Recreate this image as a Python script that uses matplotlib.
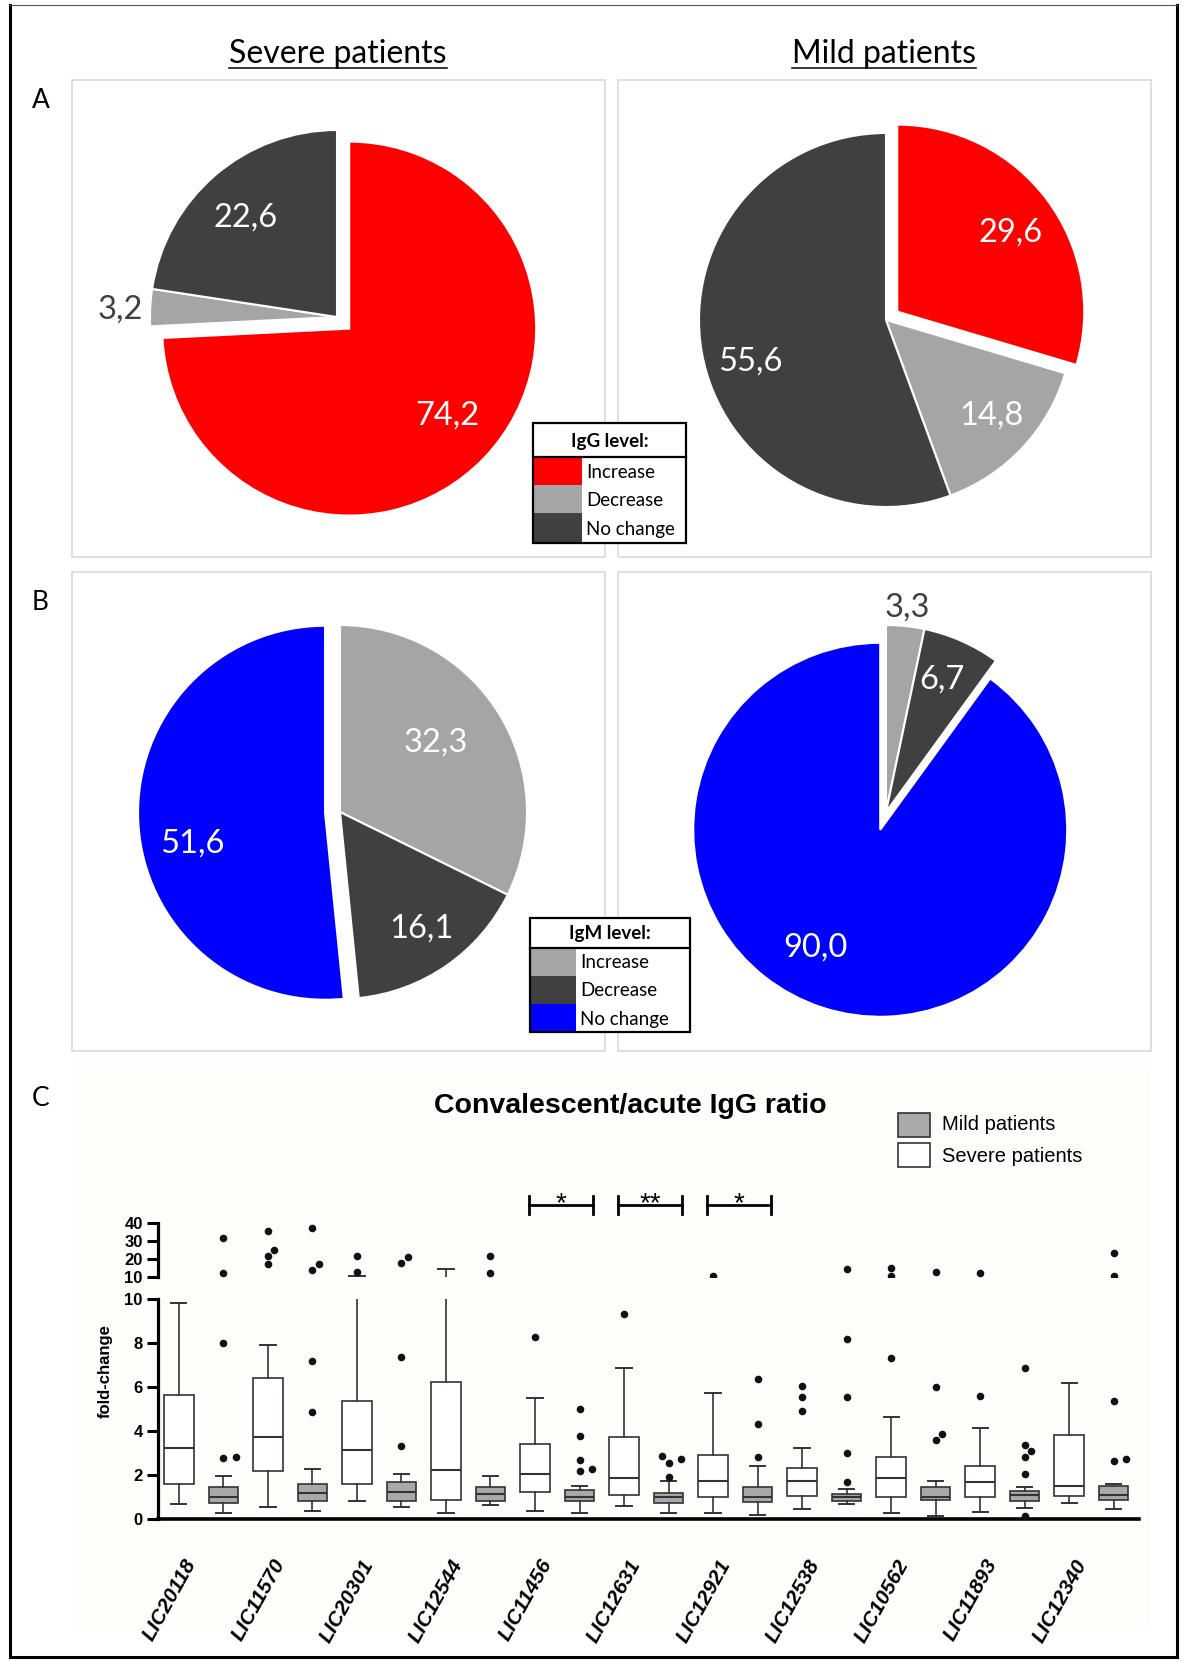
import matplotlib
matplotlib.use("Agg")
import matplotlib.pyplot as plt
import matplotlib.transforms as mtransforms
from matplotlib.patches import Rectangle
from matplotlib.lines import Line2D
import numpy as np

# ---------------- data ----------------
level_names = ["Increase", "Decrease", "No change"]
igg_severe = [74.2, 3.2, 22.6]
igg_mild = [29.6, 14.8, 55.6]
igm_severe = [32.3, 16.1, 51.6]
igm_mild = [3.3, 6.7, 90.0]

genes = ["LIC20118", "LIC11570", "LIC20301", "LIC12544", "LIC11456", "LIC12631",
         "LIC12921", "LIC12538", "LIC10562", "LIC11893", "LIC12340"]

# severe patients: whisker low, Q1, median, Q3, whisker high, outliers
sev_lo = [0.68, 0.55, 0.83, 0.27, 0.36, 0.60, 0.30, 0.45, 0.30, 0.35, 0.73]
sev_q1 = [1.59, 2.21, 1.59, 0.88, 1.26, 1.10, 1.00, 1.06, 1.00, 1.00, 1.06]
sev_med = [3.26, 3.75, 3.15, 2.24, 2.04, 1.89, 1.75, 1.75, 1.86, 1.71, 1.51]
sev_q3 = [5.66, 6.44, 5.39, 6.26, 3.42, 3.75, 2.92, 2.35, 2.85, 2.42, 3.83]
sev_hi = [9.85, 7.92, 10.3, 14.1, 5.53, 6.89, 5.73, 3.23, 4.64, 4.16, 6.18]
sev_out = [[], [17.0, 21.5, 25.0, 35.6], [12.8, 21.5], [], [8.3], [9.32], [10.4],
           [4.92, 5.58, 6.07], [7.35, 10.6, 15.0], [5.62, 11.9], []]

# mild patients
mild_lo = [0.30, 0.38, 0.57, 0.65, 0.30, 0.27, 0.20, 0.70, 0.17, 0.53, 0.47]
mild_q1 = [0.76, 0.83, 0.85, 0.85, 0.85, 0.73, 0.77, 0.85, 0.86, 0.85, 0.86]
mild_med = [1.03, 1.21, 1.26, 1.15, 1.03, 1.03, 1.03, 1.00, 1.00, 1.10, 1.10]
mild_q3 = [1.45, 1.60, 1.68, 1.48, 1.33, 1.18, 1.48, 1.15, 1.48, 1.29, 1.51]
mild_hi = [1.97, 2.30, 2.06, 1.97, 1.51, 1.75, 2.42, 1.38, 1.74, 1.45, 1.60]
mild_out = [[2.8, 2.85, 8.0, 12.2, 31.7], [4.9, 7.2, 13.7, 16.9, 36.9],
            [3.33, 7.38, 17.8, 20.8], [11.9, 21.5], [2.2, 2.3, 2.7, 3.78, 5.0],
            [1.93, 2.58, 2.72, 2.88], [2.85, 4.33, 6.36], [1.71, 3.03, 5.58, 8.18, 14.1],
            [3.6, 3.88, 6.03, 12.8], [0.15, 2.05, 2.81, 3.12, 3.38, 6.9],
            [2.65, 2.72, 5.39, 10.6, 23.0]]

sig_genes = ["LIC11456", "LIC12631", "LIC12921"]
sig_marks = ["*", "**", "*"]

# ---------------- styling ----------------
RED, LIGHT, DARK, BLUE = "#ff0000", "#a5a5a5", "#404040", "#0000ff"
PIE_FONT = "Lato"
C_FONT = "Liberation Sans"
EDGE = "#333333"
MILD_FILL = "#a9a9a9"

W, H = 1184, 1662
fig = plt.figure(figsize=(W / 100, H / 100), dpi=100)
# pixel coordinates with the origin at the top-left corner
PX = mtransforms.Affine2D().scale(1.0 / W, -1.0 / H).translate(0, 1) + fig.transFigure


def axes_px(x0, y0, x1, y1, **kw):
    return fig.add_axes([x0 / W, 1 - y1 / H, (x1 - x0) / W, (y1 - y0) / H], **kw)


def rect(x0, y0, x1, y1, **kw):
    r = Rectangle((x0, y0), x1 - x0, y1 - y0, transform=PX, **kw)
    fig.add_artist(r)
    return r


def line(xs, ys, **kw):
    ln = Line2D(xs, ys, transform=PX, **kw)
    fig.add_artist(ln)
    return ln


def text(x, y, s, **kw):
    return fig.text(x, y, s, transform=PX, **kw)


# ---------------- frame and panel boxes ----------------
rect(73, 1062, 1150, 1630, facecolor="#fdfdfa", edgecolor="none", zorder=-5)
line([10, 10], [5, 1657], color="black", lw=2.2, zorder=20)
line([1177, 1177], [5, 1657], color="black", lw=2.2, zorder=20)
line([10, 1177], [1657, 1657], color="black", lw=2.2, zorder=20)
line([10, 1177], [5, 5], color="#555555", lw=0.8, zorder=20)

for (x0, y0, x1, y1) in [(72, 80, 605, 557), (618, 80, 1151, 557),
                         (72, 572, 605, 1051), (618, 572, 1151, 1051)]:
    rect(x0, y0, x1, y1, facecolor="none", edgecolor="#d9d9d9", lw=1.2, zorder=1)

# column titles, underlined
titles = []
for cx, s in [(338, "Severe patients"), (884, "Mild patients")]:
    titles.append(text(cx, 63, s, ha="center", va="baseline", fontsize=23,
                       family=PIE_FONT, color="black"))

for x, y, s in [(41, 100, "A"), (40, 602, "B"), (41, 1098, "C")]:
    text(x, y, s, ha="center", va="center", fontsize=19, family=PIE_FONT)

# ---------------- pies ----------------
R_PX = 187


def fmt(v):
    return f"{v:.1f}".replace(".", ",")


def draw_pie(cx, cy, values, colors, explode, dist, turn, tcolors):
    L = 1.35
    half = R_PX * L
    ax = axes_px(cx - half, cy - half, cx + half, cy + half)
    ax.pie(values, colors=colors, explode=explode, startangle=90, counterclock=False,
           wedgeprops=dict(edgecolor="white", linewidth=1.5))
    ax.set_xlim(-L, L)
    ax.set_ylim(-L, L)
    ax.set_aspect("equal")
    ax.axis("off")
    total = float(sum(values))
    cum = 0.0
    for v, e, d, t, tc in zip(values, explode, dist, turn, tcolors):
        mid = 90 - 360 * (cum + v / 2) / total
        cum += v
        ox, oy = e * np.cos(np.radians(mid)), e * np.sin(np.radians(mid))
        a = np.radians(mid + t)
        ax.text(ox + d * np.cos(a), oy + d * np.sin(a), fmt(v), ha="center", va="center",
                color=tc, fontsize=23.5, family=PIE_FONT)


W_ = "white"
draw_pie(337, 317, igg_severe, [RED, LIGHT, DARK], [0.09, 0, 0],
         [0.70, 1.16, 0.72], [2, 1, 2], [W_, DARK, W_])
draw_pie(886, 320, igg_mild, [RED, LIGHT, DARK], [0.075, 0, 0],
         [0.74, 0.76, 0.76], [-2, 1, 7], [W_, W_, W_])
draw_pie(340, 812, igm_severe, [LIGHT, DARK, BLUE], [0, 0, 0.08],
         [0.63, 0.76, 0.73], [4, 0, 10], [W_, W_, W_])
draw_pie(886, 812, igm_mild, [LIGHT, DARK, BLUE], [0, 0, 0.1],
         [1.10, 0.77, 0.72], [0, 1, -11], [DARK, W_, W_])


# ---------------- level legends ----------------
def level_table(x0, x1, ytop, yhead, rows, sw_x1, title, colors):
    rect(x0, ytop, x1, rows[-1], facecolor="white", edgecolor="none", zorder=5)
    for i, (lab, c) in enumerate(zip(level_names, colors)):
        rect(x0, rows[i], sw_x1, rows[i + 1], facecolor=c, edgecolor="none", zorder=6)
        text(sw_x1 + 4, (rows[i] + rows[i + 1]) / 2 + 1, lab, ha="left", va="center",
             fontsize=13.5, family=PIE_FONT, zorder=8)
    rect(x0, ytop, x1, rows[-1], facecolor="none", edgecolor="black", lw=1.6, zorder=7)
    line([x0, x1], [yhead, yhead], color="black", lw=1.6, zorder=7)
    text((x0 + x1) / 2, (ytop + yhead) / 2 + 1, title, ha="center", va="center",
         fontsize=13.5, fontweight="bold", family=PIE_FONT, zorder=8)


level_table(533, 686, 423, 457, [457, 485, 513, 543], 582, "IgG level:", [RED, LIGHT, DARK])
level_table(530, 690, 918, 948, [948, 976, 1004, 1032], 576, "IgM level:", [LIGHT, DARK, BLUE])

# ---------------- box plots (broken y axis) ----------------
ax_lo = axes_px(158, 1299.3, 1139, 1519.3)
ax_hi = axes_px(158, 1222.7, 1139, 1276.7)
XLIM = (-0.47, 21.57)

stats = []
fliers = []
for k in range(len(genes)):
    stats.append(dict(whislo=sev_lo[k], q1=sev_q1[k], med=sev_med[k], q3=sev_q3[k],
                      whishi=sev_hi[k], fliers=[]))
    stats.append(dict(whislo=mild_lo[k], q1=mild_q1[k], med=mild_med[k], q3=mild_q3[k],
                      whishi=mild_hi[k], fliers=[]))
    fliers.append(sev_out[k])
    fliers.append(mild_out[k])
positions = np.arange(len(stats))

BREAK = 10
for ax, ylim, upper in [(ax_lo, (0, 10), False), (ax_hi, (10, 40), True)]:
    if upper:
        keep = [i for i, s in enumerate(stats) if s["whishi"] > BREAK]
    else:
        keep = list(range(len(stats)))
    bp = ax.bxp([stats[i] for i in keep], positions=positions[keep], widths=0.66,
                capwidths=0.34, patch_artist=True, showfliers=False, manage_ticks=False,
                boxprops=dict(edgecolor=EDGE, linewidth=1.2),
                whiskerprops=dict(color=EDGE, linewidth=1.2),
                capprops=dict(color=EDGE, linewidth=1.4),
                medianprops=dict(color=EDGE, linewidth=1.5))
    for i, b in zip(keep, bp["boxes"]):
        b.set_facecolor("white" if i % 2 == 0 else MILD_FILL)
    ax.set_xlim(*XLIM)
    ax.set_ylim(*ylim)
    ax.patch.set_visible(False)
    ax.set_xticks([])
    for s in ("top", "right"):
        ax.spines[s].set_visible(False)
    ax.spines["left"].set_linewidth(2.3)
    ax.tick_params(axis="y", length=8, width=2.2, pad=3, color="black")

    # outliers of this segment, spread sideways where dots would overlap
    ppu_y = ax.get_position().height * H / (ylim[1] - ylim[0])
    ppu_x = ax.get_position().width * W / (XLIM[1] - XLIM[0])
    xs, ys = [], []
    for p, vals in zip(positions, fliers):
        seg = [v for v in sorted(vals) if (v > BREAK) == upper]
        placed = []
        for v in seg:
            for o in (0, 0.14, -0.14, 0.28, -0.28):
                if all(np.hypot((o - po) * ppu_x, (v - pv) * ppu_y) >= 7.5 for pv, po in placed):
                    break
            placed.append((v, o))
            xs.append(p + o)
            ys.append(v)
    ax.scatter(xs, ys, s=30, color="#111111", linewidths=0, zorder=5, clip_on=True)

ax_lo.spines["bottom"].set_linewidth(2.6)
ax_hi.spines["bottom"].set_visible(False)
ax_lo.set_yticks([0, 2, 4, 6, 8, 10], labels=["0", "2", "4", "6", "8", "10"],
                 fontsize=12, fontweight="bold", family=C_FONT)
ax_hi.set_yticks([10, 20, 30, 40], labels=["10", "20", "30", "40"],
                 fontsize=12, fontweight="bold", family=C_FONT)

text(105, 1371, "fold-change", rotation=90, ha="center", va="center", fontsize=12,
     fontweight="bold", family=C_FONT)

# rotated gene labels
lab_tf = mtransforms.blended_transform_factory(ax_lo.transData, PX)
for k, g in enumerate(genes):
    fig.text(2 * k + 0.1, 1556, g, transform=lab_tf, rotation=61, rotation_mode="anchor",
             ha="right", va="top", fontsize=15, fontweight="bold", fontstyle="italic",
             family=C_FONT)

# significance brackets
for g, m in zip(sig_genes, sig_marks):
    k = genes.index(g)
    xa, xb = 2 * k - 0.14, 2 * k + 1.31
    fig.add_artist(Line2D([xa, xb], [1205, 1205], transform=lab_tf, color="black", lw=2.0))
    for xe in (xa, xb):
        fig.add_artist(Line2D([xe, xe], [1196, 1214], transform=lab_tf, color="black", lw=2.0))
    fig.text((xa + xb) / 2, 1211, m, transform=lab_tf, ha="center", va="baseline",
             fontsize=20, family=C_FONT)

# chart title and legend
text(630, 1106, "Convalescent/acute IgG ratio", ha="center", va="center", fontsize=20.5,
     fontweight="bold", family=C_FONT)
rect(898, 1113, 930, 1137, facecolor=MILD_FILL, edgecolor=EDGE, lw=1.2, zorder=3)
rect(898, 1143, 930, 1167, facecolor="white", edgecolor=EDGE, lw=1.2, zorder=3)
text(942, 1125, "Mild patients", ha="left", va="center", fontsize=14.5, family=C_FONT)
text(942, 1156, "Severe patients", ha="left", va="center", fontsize=14.5, family=C_FONT)

# underline the column titles
renderer = fig.canvas.get_renderer()
for t in titles:
    bb = t.get_window_extent(renderer)
    line([bb.x0, bb.x1], [68, 68], color="black", lw=1.1)

fig.savefig("out.png", dpi=100, facecolor="white")
